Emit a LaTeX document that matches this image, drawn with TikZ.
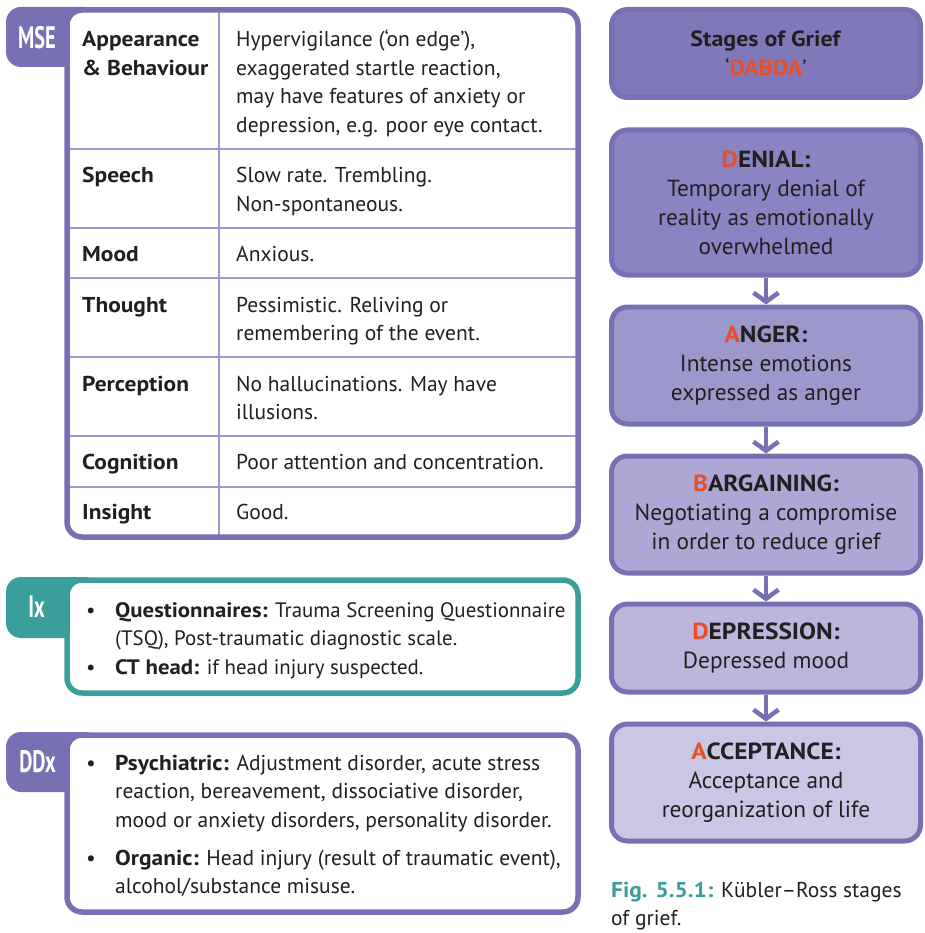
\documentclass[tikz,border=0pt]{standalone}
\usepackage{fontspec}
\setmainfont{PT Sans}[BoldFeatures={FakeStretch=1.09}]
\usepackage{graphicx}
\usetikzlibrary{arrows.meta}
\definecolor{purp}{HTML}{7771B4}
\definecolor{rowl}{HTML}{9E98CD}
\definecolor{tealc}{HTML}{3A9F9B}
\definecolor{txt}{HTML}{231F20}
\definecolor{redc}{HTML}{E94E27}
\definecolor{ftitle}{HTML}{7F79BA}
\definecolor{fden}{HTML}{8A84C2}
\definecolor{fang}{HTML}{9D98CB}
\definecolor{fbar}{HTML}{ACA7D4}
\definecolor{fdep}{HTML}{BBB7DC}
\definecolor{facc}{HTML}{CAC7E4}
\newcommand{\bodyfont}{\fontsize{21.5pt}{28.5pt}\selectfont}
\newcommand{\stagefont}{\fontsize{23.3pt}{29pt}\selectfont}
\newcommand{\rl}[1]{{\bfseries\color{redc}#1}}
\newcommand{\bulletitem}[1]{\parbox[t]{600pt}{\hangindent=31pt\hangafter=1\noindent\makebox[31pt][l]{\hspace{2pt}•}#1}}
\begin{document}
\begin{tikzpicture}[x=1pt,y=-1pt,
  tabshape/.style={rounded corners=15pt},
  frame/.style={line width=5.5pt, rounded corners=15pt},
  rowline/.style={draw=rowl, line width=1.6pt},
  cell/.style={anchor=base west, inner sep=0pt, font=\bodyfont, text=txt},
  tablabel/.style={inner sep=0pt, text=white, font=\fontsize{31pt}{31pt}\selectfont\bfseries},
  stage/.style={draw=purp, line width=5pt, rounded corners=16pt, minimum width=309pt,
     align=center, font=\stagefont, text=txt, inner sep=0pt},
  arr/.style={draw=purp, line width=4.5pt, -{Straight Barb[length=9pt,width=25pt]}}]
\useasboundingbox (0,0) rectangle (924,933);

% ---------- MSE table ----------
\fill[purp, tabshape] (6,7) rectangle (100,67);
\fill[white, frame] (67,10) rectangle (578,537);
\draw[rowline] (219,10) -- (219,537);
\foreach \yy in {149,228,278,357,436,487} \draw[rowline] (67,\yy) -- (578,\yy);
\draw[purp, frame] (67,10) rectangle (578,537);
\node[tablabel] (mse) at (37,37.5) {\scalebox{0.6}[1]{MSE}};

\node[cell] (l1) at (82,47) {\parbox[t]{135pt}{\bfseries Appearance\\\& Behaviour}};
\node[cell] (r1) at (236,47) {\parbox[t]{335pt}{Hypervigilance (‘on edge’),\\exaggerated startle reaction,\\may have features of anxiety or\\depression, e.g. poor eye contact.}};
\node[cell] (l2) at (82,183) {\bfseries Speech};
\node[cell] (r2) at (236,183) {\parbox[t]{335pt}{Slow rate. Trembling.\\Non-spontaneous.}};
\node[cell] (l3) at (82,261) {\bfseries Mood};
\node[cell] (r3) at (236,261) {Anxious.};
\node[cell] (l4) at (82,312) {\bfseries Thought};
\node[cell] (r4) at (236,312) {\parbox[t]{335pt}{Pessimistic. Reliving or\\remembering of the event.}};
\node[cell] (l5) at (82,391) {\bfseries Perception};
\node[cell] (r5) at (236,391) {\parbox[t]{335pt}{No hallucinations. May have\\illusions.}};
\node[cell] (l6) at (82,469) {\bfseries Cognition};
\node[cell] (r6) at (236,469) {Poor attention and concentration.};
\node[cell] (l7) at (82,519) {\bfseries Insight};
\node[cell] (r7) at (236,519) {Good.};

% ---------- Ix ----------
\fill[tealc, tabshape] (6,577) rectangle (100,638);
\fill[white, frame] (67,580) rectangle (578,693);
\draw[tealc, frame] (67,580) rectangle (578,693);
\node[tablabel] (ix) at (36.5,607) {\scalebox{0.6}[1]{Ix}};
\node[cell, font=\fontsize{20.9pt}{28.5pt}\selectfont] (ix1) at (84,617) {\bulletitem{\textbf{Questionnaires:} Trauma Screening Questionnaire\newline (TSQ), Post-traumatic diagnostic scale.}};
\node[cell, font=\fontsize{20.9pt}{28.5pt}\selectfont] (ix2) at (84,674) {\bulletitem{\textbf{CT head:} if head injury suspected.}};

% ---------- DDx ----------
\fill[purp, tabshape] (6,732) rectangle (100,792);
\fill[white, frame] (67,735) rectangle (578,912);
\draw[purp, frame] (67,735) rectangle (578,912);
\node[tablabel] (ddx) at (37.5,761.5) {\scalebox{0.6}[1]{DDx}};
\node[cell] (dd1) at (84,770) {\bulletitem{\textbf{Psychiatric:} Adjustment disorder, acute stress\newline reaction, bereavement, dissociative disorder,\newline mood or anxiety disorders, personality disorder.}};
\node[cell] (dd2) at (84,865) {\bulletitem{\textbf{Organic:} Head injury (result of traumatic event),\newline alcohol/substance misuse.}};

% ---------- Stages of grief ----------
\node[stage, fill=ftitle, minimum height=88pt, font=\fontsize{22pt}{29pt}\selectfont] (title) at (766,53.5)
  {\textbf{Stages of Grief}\\‘\rl{DABDA}’};
\node[stage, fill=fden, minimum height=145pt] (denial) at (766,202.5)
  {\rl{D}\textbf{ENIAL:}\\Temporary denial of\\reality as emotionally\\overwhelmed};
\node[stage, fill=fang, minimum height=117pt] (anger) at (766,365.5)
  {\rl{A}\textbf{NGER:}\\Intense emotions\\expressed as anger};
\node[stage, fill=fbar, minimum height=117pt] (barg) at (766,514.5)
  {\rl{B}\textbf{ARGAINING:}\\Negotiating a compromise\\in order to reduce grief};
\node[stage, fill=fdep, minimum height=88pt] (depr) at (766,648)
  {\rl{D}\textbf{EPRESSION:}\\Depressed mood};
\node[stage, fill=facc, minimum height=117pt] (accept) at (766,782.5)
  {\rl{A}\textbf{CCEPTANCE:}\\Acceptance and\\reorganization of life};

\draw[arr] (denial.south) -- (anger.north);
\draw[arr] (anger.south) -- (barg.north);
\draw[arr] (barg.south) -- (depr.north);
\draw[arr] (depr.south) -- (accept.north);

\node[cell] (cap) at (611,897) {\parbox[t]{320pt}{\textcolor{tealc}{\bfseries Fig. 5.5.1:} Kübler–Ross stages\\of grief.}};
\end{tikzpicture}
\end{document}
